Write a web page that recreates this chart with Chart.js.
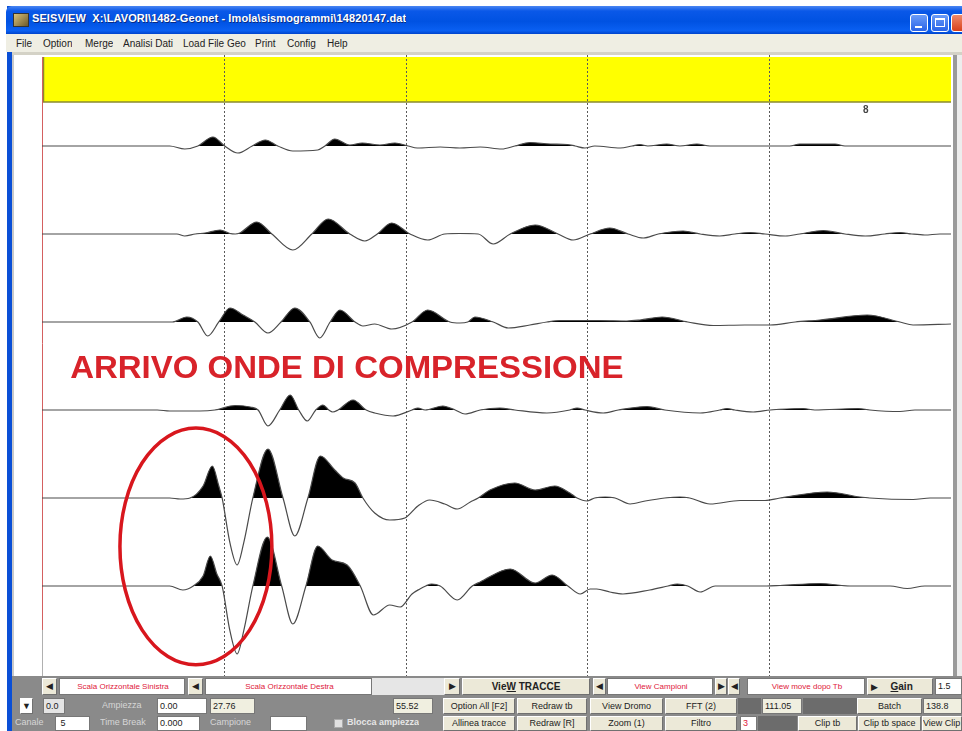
<!DOCTYPE html>
<html>

<head>
    <title>SEISVIEW</title>
    <script src="https://cdn.jsdelivr.net/npm/chart.js"></script>
    <style>
        body { margin: 0; width: 962px; height: 731px; overflow: hidden; background: #fff; position: relative; font-family: "Liberation Sans", Arial, sans-serif; }
        .c { position: absolute; box-sizing: border-box; white-space: nowrap; overflow: hidden; }
        .title { left: 6px; top: 6px; width: 956px; height: 28px; border-radius: 6px 0 0 0;
                 background: linear-gradient(to bottom, #4a86f2 0%, #0a58e8 18%, #0052e2 55%, #0a60f2 88%, #0044cc 100%); }
        .ttext { left: 32px; top: 12px; color: #fff; font-weight: bold; font-size: 11px; letter-spacing: 0.1px; text-shadow: 1px 1px 0 #0a2a80; }
        .wbtn { top: 14px; width: 18px; height: 18px; border: 1px solid #fff; border-radius: 3px;
                background: linear-gradient(#6a9cf8, #2a64e8); }
        .menu { left: 6px; top: 34px; width: 956px; height: 18px; background: #efeee3; }
        .mi { top: 38px; font-size: 10px; color: #222; }
        .btn { background: #ece9d8; border: 1px solid #fff; border-right-color: #707070; border-bottom-color: #707070;
               color: #222; font-size: 9px; text-align: center; }
        .fld { background: #fff; border: 1px solid #777; color: #222; font-size: 9px; padding-left: 2px; }
        .bei { background: #f0efe0; }
        .red { color: #e0203a; text-align: center; }
        .lbl { color: #d6d6d6; font-size: 9px; }
        .dark { background: #6c6c6c; }
        .r1 { top: 678px; height: 17px; line-height: 15px; }
        .r2 { top: 698px; height: 16px; line-height: 14px; }
        .r3 { top: 716px; height: 15px; line-height: 13px; }
    </style>
</head>

<body>
    <!-- window frame -->
    <div class="c" style="left:7px;top:6px;width:5px;height:725px;background:#0a4fd6"></div>
    <div class="c title"></div>
    <div class="c" style="left:13px;top:13px;width:16px;height:14px;background:linear-gradient(135deg,#d9c27a,#6d5a2a);border:1px solid #333"></div>
    <div class="c ttext">SEISVIEW&nbsp; X:\LAVORI\1482-Geonet - Imola\sismogrammi\14820147.dat</div>
    <div class="c wbtn" style="left:910px"></div>
    <div class="c" style="left:915px;top:26px;width:7px;height:2px;background:#fff"></div>
    <div class="c wbtn" style="left:931px"></div>
    <div class="c" style="left:935px;top:18px;width:10px;height:9px;border:1px solid #fff;border-top-width:2px"></div>
    <div class="c wbtn" style="left:951px;width:14px;background:linear-gradient(#f08a6a,#d8401c)"></div>

    <div class="c menu"></div>
    <span class="c mi" style="left:16px">File</span>
    <span class="c mi" style="left:43px">Option</span>
    <span class="c mi" style="left:85px">Merge</span>
    <span class="c mi" style="left:123px">Analisi Dati</span>
    <span class="c mi" style="left:183px">Load File Geo</span>
    <span class="c mi" style="left:255px">Print</span>
    <span class="c mi" style="left:287px">Config</span>
    <span class="c mi" style="left:327px">Help</span>
    <div class="c" style="left:12px;top:52px;width:950px;height:3px;background:#d4d2c6"></div>

    <!-- plot panel -->
    <div class="c" style="left:12px;top:55px;width:941px;height:622px;background:#fff;border-left:2px solid #c9c9c9"></div>
    <div class="c" style="left:953px;top:55px;width:4px;height:622px;background:#9a9a9a"></div>
    <div class="c" style="left:957px;top:55px;width:5px;height:622px;background:#ededed"></div>
    <div class="c" style="left:42px;top:55px;width:909px;height:621px">
        <canvas id="seisChart"></canvas>
    </div>

    <!-- bottom toolbar -->
    <div class="c" style="left:12px;top:676px;width:950px;height:55px;background:#8a8a8a"></div>

    <div class="c btn r1" style="left:42px;width:15px">&#9664;</div>
    <div class="c fld red r1" style="left:59px;width:126px;font-size:8px">Scala Orizzontale Sinistra</div>
    <div class="c btn r1" style="left:188px;width:15px">&#9664;</div>
    <div class="c fld red r1" style="left:205px;width:167px;font-size:8px">Scala Orizzontale Destra</div>
    <div class="c r1" style="left:372px;width:72px;background:#e6e6e6"></div>
    <div class="c btn r1" style="left:444px;width:16px">&#9654;</div>
    <div class="c btn r1" style="left:462px;width:128px;font-weight:bold;font-size:10px">Vie<u>W</u> TRACCE</div>
    <div class="c btn r1" style="left:593px;width:13px">&#9664;</div>
    <div class="c fld red r1" style="left:607px;width:106px;font-size:8px">View Campioni</div>
    <div class="c btn r1" style="left:715px;width:12px">&#9654;</div>
    <div class="c btn r1" style="left:728px;width:12px">&#9664;</div>
    <div class="c fld red r1" style="left:747px;width:118px;font-size:8px">View move dopo Tb</div>
    <div class="c btn r1" style="left:867px;width:66px;text-align:left;padding-left:3px">&#9654;&nbsp;&nbsp;&nbsp;&nbsp;&nbsp;<b style="font-size:10px"><u>G</u>ain</b></div>
    <div class="c fld r1" style="left:935px;width:27px">1.5</div>

    <div class="c btn r2" style="left:20px;width:13px;background:#fff">&#9660;</div>
    <div class="c fld r2" style="left:43px;width:22px;background:#e4e4e4">0.0</div>
    <div class="c lbl r2" style="left:102px">Ampiezza</div>
    <div class="c fld r2" style="left:157px;width:50px">0.00</div>
    <div class="c fld bei r2" style="left:210px;width:45px">27.76</div>
    <div class="c fld bei r2" style="left:393px;width:40px">55.52</div>
    <div class="c btn r2" style="left:443px;width:72px">Option All [F2]</div>
    <div class="c btn r2" style="left:517px;width:70px">Redraw tb</div>
    <div class="c btn r2" style="left:590px;width:73px">View Dromo</div>
    <div class="c btn r2" style="left:665px;width:72px">FFT (2)</div>
    <div class="c dark r2" style="left:738px;width:23px"></div>
    <div class="c fld bei r2" style="left:762px;width:40px">111.05</div>
    <div class="c dark r2" style="left:803px;width:54px"></div>
    <div class="c btn r2" style="left:857px;width:65px">Batch</div>
    <div class="c fld bei r2" style="left:923px;width:39px">138.8</div>

    <div class="c lbl r3" style="left:15px">Canale</div>
    <div class="c fld r3" style="left:55px;width:35px">&nbsp;5</div>
    <div class="c lbl r3" style="left:100px">Time Break</div>
    <div class="c fld r3" style="left:157px;width:43px">0.000</div>
    <div class="c lbl r3" style="left:210px">Campione</div>
    <div class="c fld r3" style="left:270px;width:37px"></div>
    <div class="c r3" style="left:334px;width:9px;height:9px;top:719px;background:#e0e0e0;border:1px solid #aaa"></div>
    <div class="c lbl r3" style="left:347px;font-weight:bold;color:#e6e6e6">Blocca ampiezza</div>
    <div class="c btn r3" style="left:443px;width:72px">Allinea tracce</div>
    <div class="c btn r3" style="left:517px;width:70px">Redraw [R]</div>
    <div class="c btn r3" style="left:590px;width:73px">Zoom (1)</div>
    <div class="c btn r3" style="left:665px;width:72px">Filtro</div>
    <div class="c fld r3" style="left:740px;width:17px;color:#e0203a">3</div>
    <div class="c dark r3" style="left:758px;width:39px"></div>
    <div class="c btn r3" style="left:798px;width:59px">Clip tb</div>
    <div class="c btn r3" style="left:858px;width:63px">Clip tb space</div>
    <div class="c btn r3" style="left:922px;width:40px;text-align:left">View Clip</div>

    <script>
        // time axis (ms) and dotted reference lines
        const timeMax = 138.8;
        const gridTimes = [27.76, 55.52, 83.28, 111.05];
        const markerLabel = "8";
        const annotationText = "ARRIVO ONDE DI COMPRESSIONE";

        // trace baselines (trace 1 on top)
        const baselines = [6, 5, 4, 3, 2, 1];
        const gain = 1 / 88;

        // trace 1
        const t1 = [0, 19.5, 21.8, 23.8, 26.1, 27.9, 29.9, 32.1, 34.1, 36.0, 38.3, 42.1, 43.2, 44.7, 47.0, 48.9, 51.6, 53.9, 55.9, 57.3, 60.8, 63.8, 66.9, 70.2, 72.2, 74.5, 77.6, 80.2, 81.4, 82.9, 84.4, 88.3, 90.1, 91.3, 92.5, 95.4, 97.4, 100.0, 102.0, 114.2, 115.7, 121.1, 122.6, 138.8];
        const a1 = [0, 0, -3, 0, 9, 0, -7, 0, 6, 0, -5, -4, 0, 7, 1, 3, 1, 3, 0, -2, -1, -2, -1, -3, 0, 3.5, 2, 1.5, 0, -2, 0, -2, 0, 1.5, 0, 2, 0, 2, 0, 0, 2, 2, 0, 0];
        // trace 2
        const t2 = [0, 20.6, 21.8, 23.4, 24.9, 27.2, 28.7, 29.5, 30.2, 32.8, 35.1, 38.3, 41.2, 43.7, 47.0, 49.3, 51.2, 53.4, 56.2, 58.9, 61.5, 63.8, 66.6, 68.9, 71.5, 75.3, 78.8, 81.1, 83.7, 86.7, 89.5, 91.8, 94.1, 97.9, 100.5, 103.5, 105.8, 108.1, 110.4, 113.5, 115.7, 119.3, 122.6, 125.7, 128.7, 131.0, 132.8, 134.8, 137.1, 138.8];
        const a2 = [0, 0, -2, 0, 1, 4, 0.5, 0, 1, 12, 0, -16, 0, 15, 0, -7, 0, 11, 0, -6, 0, 0.5, 0, -10, 0, 9, 0, -6, 0, 6, 0, -4, 0, 3, 0, -2, 0, 1.5, 0, -2, 0, 3.5, 0, -2, 0, 1.5, 0, -1, 0, 0];
        // trace 3
        const t3 = [0, 19.9, 22.1, 23.8, 25.3, 27.0, 28.7, 30.7, 32.5, 34.5, 36.5, 38.6, 40.9, 42.4, 44.0, 45.5, 47.8, 49.0, 50.8, 53.4, 56.5, 58.9, 62.3, 63.8, 65.0, 66.1, 68.9, 71.2, 74.5, 77.1, 79.1, 85.2, 89.3, 91.3, 94.7, 98.6, 102.5, 107.3, 111.2, 115.0, 118.8, 126.0, 131.0, 133.0, 138.8];
        const a3 = [0, 0, 5, 0, -14, 0, 14, 7, 0, -11, 0, 14, 0, -16, 0, 12, 0, -4, -2, -7, 0, 12, 0, -1, 0, 5, 0, -6, -3, 0, 1.5, 1.5, 1, 2, 5, 0, -3.5, -3, -3, 0, 2, 7, 0, -3, -2];
        // trace 4
        const t4 = [0, 17.6, 19.5, 24.1, 26.4, 29.5, 31.8, 33.0, 34.5, 36.3, 37.9, 39.2, 40.5, 41.8, 42.9, 43.8, 44.4, 45.2, 47.5, 49.5, 50.8, 53.6, 56.5, 57.4, 58.5, 61.2, 63.1, 64.6, 66.9, 69.9, 72.2, 77.1, 80.6, 81.7, 82.9, 85.7, 88.0, 92.4, 95.1, 100.5, 103.5, 104.6, 105.8, 108.6, 111.2, 116.2, 118.0, 124.6, 126.4, 131.0, 133.3, 138.8];
        const a4 = [0, 0, -1, -1, 0, 4.5, 3, 0, -16, 0, 15, 0, -11, 0, 5, 0, -2, 0, 10, 0, -3, -6, 0, 2, 0, 4, 0, -4, 0, 2, 0, -3, 0, 2, 0, -3, 0, 3.5, 0, -3, 0, 1.5, 0, -2, 0, 1.5, 0, 1.5, 0, -1.5, 0, 0];
        // trace 5
        const t5 = [0, 19.5, 21.1, 22.6, 24.6, 26.0, 27.0, 27.5, 28.7, 29.8, 30.8, 32.2, 34.5, 36.8, 38.6, 40.6, 42.5, 44.7, 46.0, 47.8, 49.0, 50.8, 53.1, 55.4, 57.4, 59.2, 61.5, 63.4, 65.4, 66.6, 68.4, 72.2, 75.3, 78.3, 80.6, 81.7, 83.2, 84.4, 86.0, 87.5, 89.8, 92.1, 95.1, 97.4, 98.9, 102.0, 106.6, 110.4, 112.7, 119.9, 124.9, 126.4, 133.0, 135.6, 138.8];
        const a5 = [0, 0, -1, 0, 12, 32, 12, 0, -45, -67, -45, 0, 49, 0, -38, 0, 42, 28, 20, 15, 0, -15, -22, -20, -8, -2, -6, -11, -4, 0, 8, 15, 8, 12, 5, 0, -3, 0, 1, 0, -6, -3, 0, 1, 0, -6, -2.5, -2.5, 0, 6, 1, 0, -1.5, 0, 0];
        // trace 6
        const t6 = [0, 19.5, 21.5, 23.1, 24.6, 25.7, 26.7, 27.5, 28.7, 29.8, 30.8, 32.2, 34.4, 36.6, 38.3, 40.3, 42.1, 44.3, 46.6, 48.6, 50.6, 53.1, 54.7, 56.5, 57.7, 58.6, 59.5, 60.8, 63.4, 65.7, 66.9, 71.5, 75.3, 77.9, 80.3, 82.2, 83.7, 84.7, 86.7, 88.7, 92.8, 95.6, 97.0, 98.6, 100.5, 102.8, 110.7, 112.7, 118.8, 123.4, 129.5, 132.1, 134.8, 138.8];
        const a6 = [0, 0, -4, 0, 10, 30, 12, 0, -45, -68, -45, 0, 49, 0, -38, 0, 40, 26, 21, 0, -29, -19, -21, -8, -3, 0, 2, 0, -14, 0, 4, 17, 3, 11, 0, -8, -3, -3, -6, -8, -4, 0, 2, 0, -6, 0, 0, 0.5, 2.5, 0, 0, -2.5, 0, 0];

        const traceTimes = [t1, t2, t3, t4, t5, t6];
        const traceAmps = [a1, a2, a3, a4, a5, a6];

        // builds one wiggle trace with positive lobes filled black
        function buildTrace(times, amps, base) {
            return {
                data: times.map((t, i) => ({ x: t, y: base + amps[i] * gain })),
                borderColor: "#4a4a4a",
                borderWidth: 1.2,
                pointRadius: 0,
                cubicInterpolationMode: "monotone",
                fill: { target: { value: base }, above: "#000000", below: "rgba(0,0,0,0)" },
            };
        }

        // yellow header, dotted time lines, red origin line, annotations
        const seisPlugin = {
            id: "seis",
            beforeDatasetsDraw(chart) {
                const { ctx, chartArea: a, scales: { x, y } } = chart;
                ctx.save();
                const yb = y.getPixelForValue(6.5);
                ctx.fillStyle = "#ffff00";
                ctx.fillRect(a.left + 1, a.top + 2, a.right - a.left - 1, yb - a.top - 2);
                ctx.strokeStyle = "#8a8a30";
                ctx.lineWidth = 1.5;
                ctx.beginPath();
                ctx.moveTo(a.left + 1.5, a.top + 2);
                ctx.lineTo(a.left + 1.5, yb);
                ctx.lineTo(a.right, yb);
                ctx.stroke();

                ctx.strokeStyle = "#5a5a5a";
                ctx.lineWidth = 1;
                ctx.setLineDash([2, 2]);
                gridTimes.forEach((t) => {
                    const px = Math.round(x.getPixelForValue(t)) + 0.5;
                    ctx.beginPath();
                    ctx.moveTo(px, a.top);
                    ctx.lineTo(px, a.bottom);
                    ctx.stroke();
                });
                ctx.setLineDash([]);

                const x0 = x.getPixelForValue(0) + 0.5;
                const yr = y.getPixelForValue(0.5);
                ctx.strokeStyle = "#d46060";
                ctx.beginPath();
                ctx.moveTo(x0, a.top + 2);
                ctx.lineTo(x0, yr);
                ctx.stroke();
                ctx.strokeStyle = "#b0b0b0";
                ctx.beginPath();
                ctx.moveTo(x0, yr);
                ctx.lineTo(x0, a.bottom);
                ctx.stroke();
                ctx.restore();
            },
            afterDatasetsDraw(chart) {
                const { ctx, scales: { x, y } } = chart;
                ctx.save();
                // small marker in the header
                ctx.fillStyle = "#444";
                ctx.font = "bold 10px 'Liberation Sans', Arial";
                ctx.textAlign = "center";
                ctx.textBaseline = "middle";
                ctx.fillText(markerLabel, x.getPixelForValue(125.8), y.getPixelForValue(6.41));

                // annotation text
                ctx.fillStyle = "#d8232a";
                ctx.font = "bold 32px 'Liberation Sans', Arial";
                ctx.textAlign = "left";
                ctx.textBaseline = "alphabetic";
                const tx = x.getPixelForValue(4.3);
                const ty = y.getPixelForValue(3.364);
                const w = ctx.measureText(annotationText).width;
                const target = x.getPixelForValue(88.8) - tx;
                ctx.translate(tx, ty);
                ctx.scale(target / w, 1);
                ctx.fillText(annotationText, 0, 0);
                ctx.setTransform(1, 0, 0, 1, 0, 0);
                ctx.restore();

                // red ellipse around the first arrival
                ctx.save();
                const cx = x.getPixelForValue(23.5);
                const cy = y.getPixelForValue(1.449);
                const rx = x.getPixelForValue(23.5 + 11.6) - cx;
                const ry = y.getPixelForValue(1.449) - y.getPixelForValue(1.449 + 1.345);
                ctx.strokeStyle = "#d8161d";
                ctx.lineWidth = 3.5;
                ctx.beginPath();
                ctx.ellipse(cx, cy, rx, ry, 0, 0, Math.PI * 2);
                ctx.stroke();
                ctx.restore();
            },
        };

        const ctx = document.getElementById("seisChart").getContext("2d");
        new Chart(ctx, {
            type: "line",
            data: {
                datasets: traceTimes.map((t, i) => buildTrace(t, traceAmps[i], baselines[i])),
            },
            options: {
                responsive: true,
                maintainAspectRatio: false,
                animation: false,
                events: [],
                layout: { padding: 0 },
                plugins: { legend: { display: false }, tooltip: { enabled: false } },
                scales: {
                    x: { type: "linear", min: 0, max: timeMax, display: false },
                    y: { min: -0.023, max: 7.034, display: false },
                },
            },
            plugins: [seisPlugin],
        });
    </script>
</body>

</html>
